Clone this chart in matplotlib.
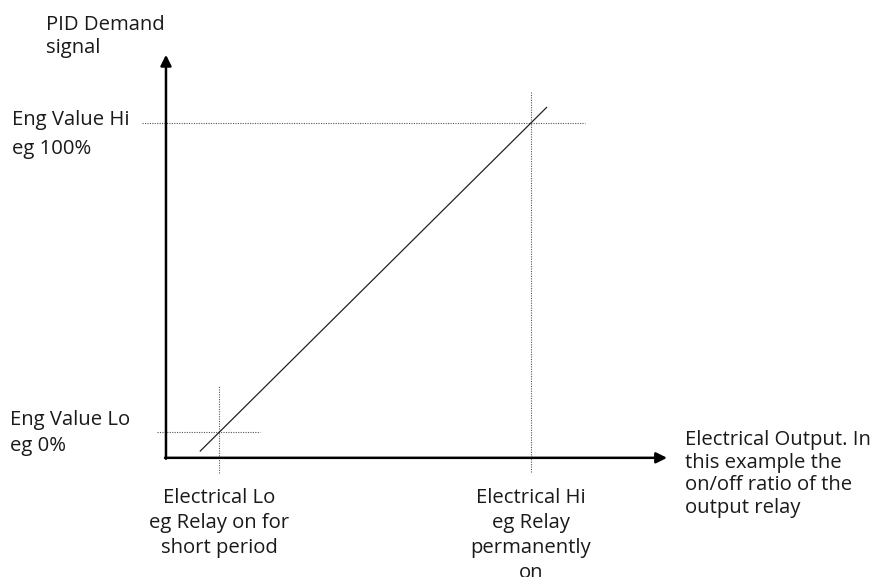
import matplotlib.pyplot as plt

# Demand signal (%) vs electrical output (%), Lo = 0, Hi = 100
line_x = [-6, 105]
line_y = [-6, 105]

eng_lo, eng_hi = 0, 100
elec_lo, elec_hi = 0, 100

# axis origin and arrow tips
origin = (-17.0, -8.2)
x_tip = 143.6
y_tip = 122.0

plt.rcParams['font.family'] = ['Open Sans', 'DejaVu Sans']

fig = plt.figure(figsize=(8.77, 5.77), dpi=100)
ax = fig.add_axes([0, 0, 1, 1])
ax.set_xlim(-70.2, 210.9)
ax.set_ylim(-46.7, 139.7)
ax.axis('off')

# axes arrows
arrow = dict(arrowstyle='-|>', lw=1.8, color='black', mutation_scale=16,
             shrinkA=0, shrinkB=0)
ax.annotate('', xy=(origin[0], y_tip), xytext=(origin[0], origin[1] - 0.3),
            arrowprops=arrow)
ax.annotate('', xy=(x_tip, origin[1]), xytext=(origin[0] - 0.3, origin[1]),
            arrowprops=arrow)

# dotted guide lines
dot = dict(color='#555555', lw=0.8, linestyle=(0, (1, 1.2)))
ax.plot([-24.7, 117.3], [eng_hi, eng_hi], **dot)
ax.plot([elec_hi, elec_hi], [-12.8, 110.0], **dot)
ax.plot([-19.9, 13.1], [eng_lo, eng_lo], **dot)
ax.plot([elec_lo, elec_lo], [-13.0, 15.3], **dot)

# scaling line
ax.plot(line_x, line_y, color='#222222', lw=0.9)

fs = 14.6
txt = dict(fontsize=fs, color='#1a1a1a', va='baseline')


def label(lines, x, y0, pitch, ha='left'):
    for i, s in enumerate(lines):
        ax.text(x, y0 - i * pitch, s, ha=ha, **txt)


label(['PID Demand', 'signal'], -55.4, 130.0, 7.4)
label(['Eng Value Hi', 'eg 100%'], -66.3, 99.4, 9.4)
label(['Eng Value Lo', 'eg 0%'], -67.0, 2.4, 8.4)
label(['Electrical Lo', 'eg Relay on for', 'short period'], elec_lo, -22.8, 8.05,
      ha='center')
label(['Electrical Hi', 'eg Relay', 'permanently', 'on'], elec_hi, -22.8, 8.05,
      ha='center')
label(['Electrical Output. In', 'this example the', 'on/off ratio of the',
       'output relay'], 149.4, -4.0, 7.35)

fig.savefig('out.png', dpi=100)
